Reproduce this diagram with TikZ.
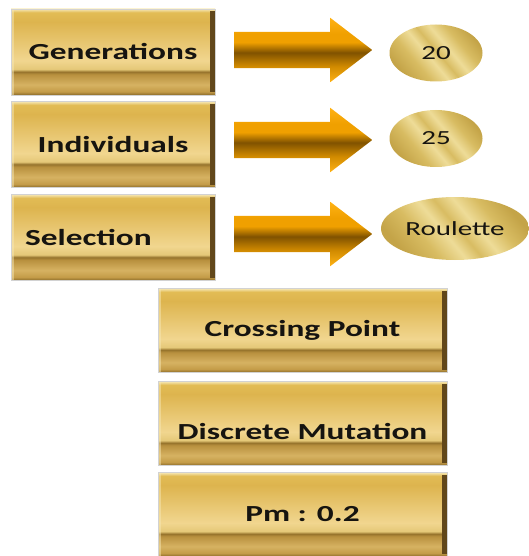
\documentclass[tikz,border=0pt]{standalone}
\usepackage{fontspec}
\setmainfont{Carlito}
\newfontfamily\boxfont[FakeStretch=1.45]{Carlito}
\newfontfamily\ovalfont[FakeStretch=1.45]{Carlito}
\usetikzlibrary{shapes.geometric,shapes.arrows}

\definecolor{goldtop}{RGB}{246,231,181}
\definecolor{goldhigh}{RGB}{226,188,85}
\definecolor{goldbase}{RGB}{221,180,78}
\definecolor{goldlight}{RGB}{241,214,143}
\definecolor{goldpale}{RGB}{229,200,120}
\definecolor{goldband}{RGB}{150,115,44}
\definecolor{goldmid}{RGB}{184,144,62}
\definecolor{goldsoft}{RGB}{214,178,98}
\definecolor{goldlow}{RGB}{196,156,72}
\definecolor{goldbot}{RGB}{138,106,40}
\definecolor{edgedark}{RGB}{96,70,26}
\definecolor{amberhi}{RGB}{255,178,20}
\definecolor{amber}{RGB}{240,160,0}
\definecolor{amberlo}{RGB}{128,82,0}
\definecolor{amberbot}{RGB}{208,138,0}
\definecolor{ovalbase}{RGB}{216,188,98}
\definecolor{ovallight}{RGB}{238,220,152}
\definecolor{ovaldark}{RGB}{196,164,72}
\definecolor{inkdark}{RGB}{22,20,16}

\pgfdeclareverticalshading{goldbar}{100bp}{color(0bp)=(goldbot); color(25bp)=(goldbot);
  color(27bp)=(goldlow); color(31bp)=(goldsoft); color(37bp)=(goldmid); color(38.5bp)=(goldband);
  color(40bp)=(goldpale); color(45bp)=(goldlight); color(67.5bp)=(goldbase); color(73bp)=(goldhigh);
  color(75bp)=(goldtop); color(100bp)=(goldtop)}
\pgfdeclareverticalshading{amberbar}{100bp}{color(0bp)=(amberhi); color(25bp)=(amberhi);
  color(37.5bp)=(amberbot); color(48bp)=(amberlo); color(56bp)=(amber); color(62.5bp)=(amber);
  color(75bp)=(amberhi); color(100bp)=(amberhi)}
\pgfdeclarehorizontalshading{sheen}{100bp}{color(0bp)=(ovaldark); color(25bp)=(ovaldark);
  color(36bp)=(ovalbase); color(45bp)=(ovallight); color(51bp)=(ovalbase); color(58bp)=(ovallight);
  color(66bp)=(ovalbase); color(75bp)=(ovaldark); color(100bp)=(ovaldark)}

\tikzset{
  goldbox/.style={draw=gray!35, line width=0.4pt, shade, shading=goldbar, inner sep=0pt,
    minimum width=204pt, minimum height=86pt, text=inkdark,
    font=\boxfont\bfseries\fontsize{23}{26}\selectfont,
    path picture={
      \shade[left color=goldmid, right color=edgedark]
        ([xshift=-5pt,yshift=-3pt]path picture bounding box.north east) rectangle ([yshift=3pt]path picture bounding box.south east);
      \fill[goldtop, opacity=0.5]
        (path picture bounding box.north west) rectangle ([xshift=3pt]path picture bounding box.south west);
    }},
  widebox/.style={goldbox, minimum width=289pt, minimum height=84pt},
  goldarrow/.style={single arrow, shade, shading=amberbar, draw=none, anchor=tail,
    inner xsep=0pt, inner ysep=18pt, minimum height=138pt,
    single arrow head extend=14pt, single arrow head indent=0pt, single arrow tip angle=75},
  goldoval/.style={ellipse, shade, shading=sheen, shading angle=40, draw=none, inner sep=0pt,
    minimum width=93pt, minimum height=57pt, text=inkdark,
    font=\ovalfont\fontsize{20}{24}\selectfont}
}

\begin{document}
\begin{tikzpicture}[x=1pt,y=-1pt]
\useasboundingbox (0,0) rectangle (529,556);
% parameter boxes
\node[goldbox] (gen) at (113,52) {Generations};
\node[goldbox] (ind) at (113,144.5) {Individuals};
\node[goldbox, text width=176pt, align=left] (sel) at (113,237.5) {Selection};
\node[widebox] (cross) at (302.5,330.5) {Crossing Point};
\node[widebox, text height=31pt, text depth=0pt] (mut) at (302.5,423.5) {Discrete Mutation};
\node[widebox] (pm) at (302.5,514.5) {Pm : 0.2};
% arrows
\node[goldarrow] (arrGen) at (234,50) {};
\node[goldarrow] (arrInd) at (234,140) {};
\node[goldarrow] (arrSel) at (234,234) {};
% values
\node[goldoval] (valGen) at (436,53) {20};
\node[goldoval] (valInd) at (436,138.5) {25};
\node[goldoval, minimum width=148pt, minimum height=63pt] (valSel) at (455,228.5) {Roulette};
\end{tikzpicture}
\end{document}
